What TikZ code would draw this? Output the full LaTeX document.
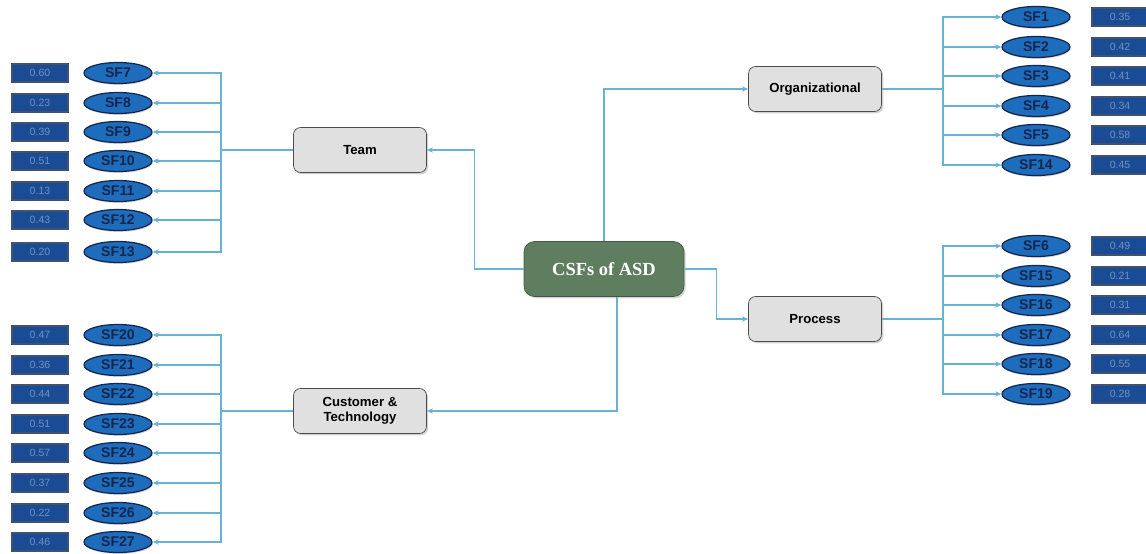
\documentclass[tikz,border=0pt]{standalone}
\usepackage{fontspec}
\setmainfont{Liberation Serif}
\setsansfont{Liberation Sans}
\usetikzlibrary{shapes.geometric,shadows,arrows.meta}
\definecolor{sfBlue}{RGB}{30,108,188}
\definecolor{sfEdge}{RGB}{20,38,78}
\definecolor{valBlue}{RGB}{26,76,150}
\definecolor{valText}{RGB}{115,145,188}
\definecolor{linkBlue}{RGB}{104,178,212}
\definecolor{asdGreen}{RGB}{95,126,95}
\tikzstyle{factor}=[draw=sfEdge,line width=0.7pt,fill=sfBlue,ellipse,minimum width=1.36cm,minimum height=0.42cm,inner sep=0pt,text=sfEdge,font=\sffamily\bfseries\fontsize{8}{8}\selectfont,drop shadow={opacity=0.3,shadow xshift=0.5pt,shadow yshift=-0.8pt}]
\tikzstyle{weight}=[draw=sfEdge!80,line width=0.6pt,fill=valBlue,minimum width=1.12cm,minimum height=0.36cm,inner sep=0pt,text=valText,font=\sffamily\fontsize{6}{6}\selectfont,drop shadow={opacity=0.3,shadow xshift=0.6pt,shadow yshift=-0.6pt}]
\tikzstyle{category}=[draw=black!70,fill=black!12,rounded corners=4pt,minimum width=2.66cm,minimum height=0.9cm,align=center,font=\sffamily\bfseries\fontsize{7.5}{8.5}\selectfont,drop shadow={opacity=0.35,shadow xshift=1pt,shadow yshift=-1pt}]
\tikzstyle{link}=[draw=linkBlue,line width=0.6pt]
\tikzstyle{branch}=[-{Stealth[length=3.5pt,width=3pt]},draw=linkBlue,line width=0.6pt]

\begin{document}
\begin{tikzpicture}[x=0.02cm,y=-0.02cm]

    \useasboundingbox (0,0) rectangle (1146,554);

    \node[category,fill=asdGreen,draw=asdGreen!70!black,text=white,minimum width=3.2cm,minimum height=1.1cm,rounded corners=6pt,font=\rmfamily\bfseries\fontsize{10.5}{12}\selectfont] (asd) at (604,269) {CSFs of ASD};

    \node[category] (team) at (360,150) {Team};
    \node[category] (cust) at (360,411) {Customer \&\\Technology};
    \node[category] (org) at (815,89) {Organizational};
    \node[category] (proc) at (815,319) {Process};

    % team factors
    \node[factor] (sf7) at (118,73) {SF7};
    \node[factor] (sf8) at (118,103) {SF8};
    \node[factor] (sf9) at (118,132) {SF9};
    \node[factor] (sf10) at (118,161) {SF10};
    \node[factor] (sf11) at (118,191) {SF11};
    \node[factor] (sf12) at (118,220) {SF12};
    \node[factor] (sf13) at (118,252) {SF13};
    \node[weight] (w7) at (40,73) {0.60};
    \node[weight] (w8) at (40,103) {0.23};
    \node[weight] (w9) at (40,132) {0.39};
    \node[weight] (w10) at (40,161) {0.51};
    \node[weight] (w11) at (40,191) {0.13};
    \node[weight] (w12) at (40,220) {0.43};
    \node[weight] (w13) at (40,252) {0.20};

    % customer & technology factors
    \node[factor] (sf20) at (118,335) {SF20};
    \node[factor] (sf21) at (118,365) {SF21};
    \node[factor] (sf22) at (118,394) {SF22};
    \node[factor] (sf23) at (118,424) {SF23};
    \node[factor] (sf24) at (118,453) {SF24};
    \node[factor] (sf25) at (118,483) {SF25};
    \node[factor] (sf26) at (118,513) {SF26};
    \node[factor] (sf27) at (118,542) {SF27};
    \node[weight] (w20) at (40,335) {0.47};
    \node[weight] (w21) at (40,365) {0.36};
    \node[weight] (w22) at (40,394) {0.44};
    \node[weight] (w23) at (40,424) {0.51};
    \node[weight] (w24) at (40,453) {0.57};
    \node[weight] (w25) at (40,483) {0.37};
    \node[weight] (w26) at (40,513) {0.22};
    \node[weight] (w27) at (40,542) {0.46};

    % organizational factors
    \node[factor] (sf1) at (1036,17) {SF1};
    \node[factor] (sf2) at (1036,47) {SF2};
    \node[factor] (sf3) at (1036,76) {SF3};
    \node[factor] (sf4) at (1036,106) {SF4};
    \node[factor] (sf5) at (1036,135) {SF5};
    \node[factor] (sf14) at (1036,165) {SF14};
    \node[weight] (w1) at (1120,17) {0.35};
    \node[weight] (w2) at (1120,47) {0.42};
    \node[weight] (w3) at (1120,76) {0.41};
    \node[weight] (w4) at (1120,106) {0.34};
    \node[weight] (w5) at (1120,135) {0.58};
    \node[weight] (w14) at (1120,165) {0.45};

    % process factors
    \node[factor] (sf6) at (1036,246) {SF6};
    \node[factor] (sf15) at (1036,276) {SF15};
    \node[factor] (sf16) at (1036,305) {SF16};
    \node[factor] (sf17) at (1036,335) {SF17};
    \node[factor] (sf18) at (1036,364) {SF18};
    \node[factor] (sf19) at (1036,394) {SF19};
    \node[weight] (w6) at (1120,246) {0.49};
    \node[weight] (w15) at (1120,276) {0.21};
    \node[weight] (w16) at (1120,305) {0.31};
    \node[weight] (w17) at (1120,335) {0.64};
    \node[weight] (w18) at (1120,364) {0.55};
    \node[weight] (w19) at (1120,394) {0.28};

    \coordinate (teamBus) at (221,150);
    \coordinate (custBus) at (221,411);
    \coordinate (orgBus) at (943,89);
    \coordinate (procBus) at (943,319);

    % centre to categories
    \draw[branch] (asd.west) -- ++(-49,0) |- (team.east);
    \draw[branch] (asd.north) |- (org.west);
    \draw[branch] (asd.east) -- ++(32,0) |- (proc.west);
    \draw[branch] ([xshift=0.26cm]asd.south) |- (cust.east);

    % categories to buses
    \draw[link] (team.west) -- (teamBus);
    \draw[link] (cust.west) -- (custBus);
    \draw[link] (org.east) -- (orgBus);
    \draw[link] (proc.east) -- (procBus);

    \draw[branch] (teamBus) |- (sf7);
    \draw[branch] (teamBus) |- (sf8);
    \draw[branch] (teamBus) |- (sf9);
    \draw[branch] (teamBus) |- (sf10);
    \draw[branch] (teamBus) |- (sf11);
    \draw[branch] (teamBus) |- (sf12);
    \draw[branch] (teamBus) |- (sf13);

    \draw[branch] (custBus) |- (sf20);
    \draw[branch] (custBus) |- (sf21);
    \draw[branch] (custBus) |- (sf22);
    \draw[branch] (custBus) |- (sf23);
    \draw[branch] (custBus) |- (sf24);
    \draw[branch] (custBus) |- (sf25);
    \draw[branch] (custBus) |- (sf26);
    \draw[branch] (custBus) |- (sf27);

    \draw[branch] (orgBus) |- (sf1);
    \draw[branch] (orgBus) |- (sf2);
    \draw[branch] (orgBus) |- (sf3);
    \draw[branch] (orgBus) |- (sf4);
    \draw[branch] (orgBus) |- (sf5);
    \draw[branch] (orgBus) |- (sf14);

    \draw[branch] (procBus) |- (sf6);
    \draw[branch] (procBus) |- (sf15);
    \draw[branch] (procBus) |- (sf16);
    \draw[branch] (procBus) |- (sf17);
    \draw[branch] (procBus) |- (sf18);
    \draw[branch] (procBus) |- (sf19);

\end{tikzpicture}
\end{document}
